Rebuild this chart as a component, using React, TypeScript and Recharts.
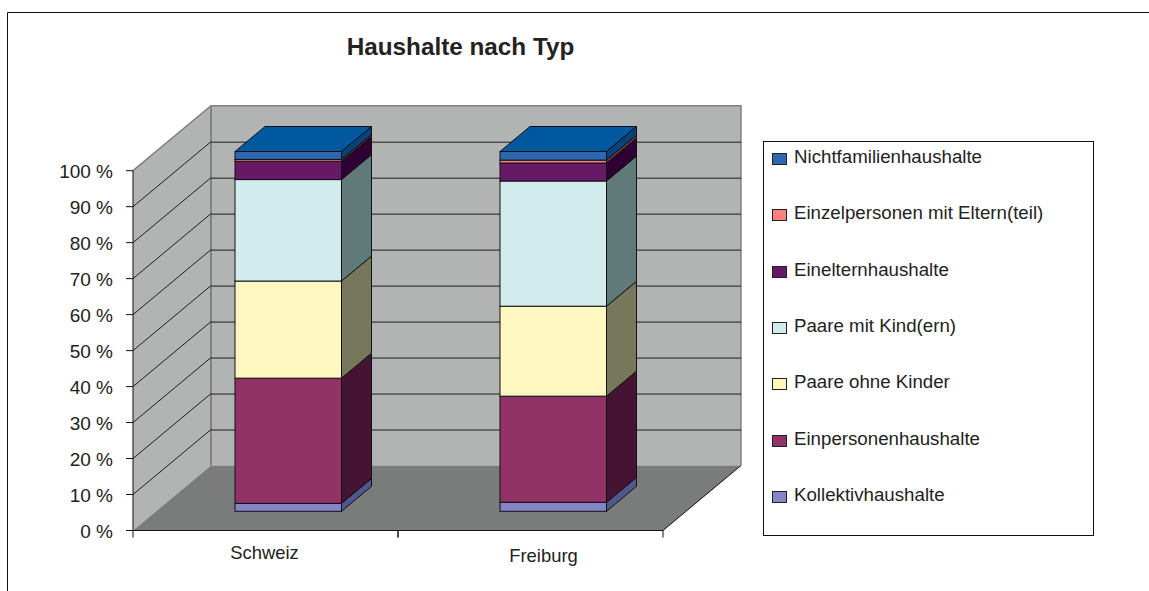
import { Bar, BarChart, CartesianGrid, Legend, XAxis, YAxis } from "recharts";

const categories = ["Schweiz", "Freiburg"];
const seriesNames = [
  "Kollektivhaushalte",
  "Einpersonenhaushalte",
  "Paare ohne Kinder",
  "Paare mit Kind(ern)",
  "Einelternhaushalte",
  "Einzelpersonen mit Eltern(teil)",
  "Nichtfamilienhaushalte",
];
const schweizValues = [2.2, 34.8, 27.0, 28.2, 5.1, 0.5, 2.2];
const freiburgValues = [2.5, 29.5, 25.0, 34.8, 5.0, 0.8, 2.4];
const yTicks = [0, 10, 20, 30, 40, 50, 60, 70, 80, 90, 100];

const faceColors = ["#8585c6", "#913366", "#fff7c0", "#d2ebec", "#661a66", "#ff8080", "#2d67b0"];
const sideColors = ["#50578c", "#451432", "#77775c", "#5f7a78", "#2e0033", "#803c3c", "#03437a"];
const topColor = "#00599f";

const tableData = categories.map((name, i) => {
  const row: Record<string, string | number> = { name };
  seriesNames.forEach((s, k) => {
    row[s] = (i === 0 ? schweizValues : freiburgValues)[k];
  });
  return row;
});

// plot area = the plane the bars stand on; axes sit in front of it, walls behind it
const WIDTH = 1149;
const HEIGHT = 591;
const PLOT = { left: 156, right: 686, top: 151.5, bottom: 511.3 };
const FRONT_DX = 23;
const FRONT_DY = 19.2;
const WALL_DX = 78;
const WALL_DY = 65;
const BAR_DX = 30;
const BAR_DY = 25;
const FONT = "'Liberation Sans', Arial, sans-serif";

const frontLeft = PLOT.left - FRONT_DX;
const frontRight = PLOT.right - FRONT_DX;
const frontTop = PLOT.top + FRONT_DY;
const frontBottom = PLOT.bottom + FRONT_DY;
const bandWidth = (PLOT.right - PLOT.left) / categories.length;
const pts = (...p: number[][]) => p.map((q) => q.join(",")).join(" ");

function Walls() {
  const bx = frontLeft + WALL_DX;
  const rx = frontRight + WALL_DX;
  const by = frontBottom - WALL_DY;
  const ty = frontTop - WALL_DY;
  return (
    <g>
      <line x1={7.5} y1={12.5} x2={WIDTH} y2={12.5} stroke="#111" strokeWidth={1} />
      <line x1={7.5} y1={12.5} x2={7.5} y2={HEIGHT} stroke="#111" strokeWidth={1} />
      <rect x={bx} y={ty} width={rx - bx} height={by - ty} fill="#b2b4b4" />
      <polygon points={pts([frontLeft, frontTop], [bx, ty], [bx, by], [frontLeft, frontBottom])} fill="#b2b4b4" />
      <polygon points={pts([frontLeft, frontBottom], [bx, by], [rx, by], [frontRight, frontBottom])} fill="#7a7b7b" />
      <polyline points={pts([frontLeft, frontTop], [bx, ty], [rx, ty], [rx, by])} fill="none" stroke="#808282" strokeWidth={1.5} />
      <line x1={bx} y1={ty} x2={bx} y2={by} stroke="#808282" strokeWidth={2} />
      <line x1={frontRight} y1={frontBottom} x2={rx} y2={by} stroke="#111" />
      <line x1={frontLeft} y1={frontTop} x2={frontLeft} y2={frontBottom} stroke="#111" />
      <line x1={frontLeft} y1={frontBottom} x2={frontRight} y2={frontBottom} stroke="#111" />
    </g>
  );
}

// gridline runs along the side wall then across the back wall
function GridLine(props: any) {
  const y = props.y1 as number;
  const fy = y + FRONT_DY;
  const wy = fy - WALL_DY;
  if (Math.abs(y - PLOT.bottom) < 1 || Math.abs(y - PLOT.top) < 1) return <g key={props.key} />;
  return (
    <g key={props.key}>
      <line x1={frontLeft} y1={fy} x2={frontLeft + WALL_DX} y2={wy} stroke="#1c1c1c" />
      <line x1={frontLeft + WALL_DX} y1={wy + 0.5} x2={frontRight + WALL_DX} y2={wy + 0.5} stroke="#1c1c1c" />
    </g>
  );
}

function YTick({ y, payload }: any) {
  const fy = y + FRONT_DY;
  return (
    <g>
      <line x1={frontLeft - 7} y1={fy} x2={frontLeft} y2={fy} stroke="#111" />
      <text x={frontLeft - 20} y={fy + 7} textAnchor="end" fontSize={19} fontFamily={FONT} fill="#222">
        {`${payload.value} %`}
      </text>
    </g>
  );
}

const xLabelNudge = [-1, 13];
const xLabelBaseline = [559, 561.5];

function XTick({ x, payload, index }: any) {
  const fx = x - FRONT_DX;
  return (
    <g>
      <line x1={fx - bandWidth / 2} y1={frontBottom} x2={fx - bandWidth / 2} y2={frontBottom + 7} stroke="#111" />
      <line x1={fx + bandWidth / 2} y1={frontBottom} x2={fx + bandWidth / 2} y2={frontBottom + 7} stroke="#111" />
      <text x={fx + xLabelNudge[index]} y={xLabelBaseline[index]} textAnchor="middle" fontSize={18.4} fontFamily={FONT} fill="#222">
        {payload.value}
      </text>
    </g>
  );
}

function Block3D({ x, y, width, height, seriesIndex }: any) {
  const edge = "#111";
  const r = x + width;
  const b = y + height;
  return (
    <g>
      {seriesIndex === seriesNames.length - 1 && (
        <polygon
          points={pts([x, y], [x + BAR_DX, y - BAR_DY], [r + BAR_DX, y - BAR_DY], [r, y])}
          fill={topColor}
          stroke={edge}
        />
      )}
      <polygon
        points={pts([r, y], [r + BAR_DX, y - BAR_DY], [r + BAR_DX, b - BAR_DY], [r, b])}
        fill={sideColors[seriesIndex]}
        stroke={edge}
      />
      <rect x={x} y={y} width={width} height={height} fill={faceColors[seriesIndex]} stroke={edge} />
    </g>
  );
}

function LegendBox({ payload }: any) {
  const rows = [...(payload ?? [])].reverse();
  return (
    <div style={{ position: "relative", width: 329, height: 393, border: "1px solid #111", background: "#fff", fontFamily: FONT }}>
      {rows.map((entry: any, i: number) => (
        <div
          key={entry.value}
          style={{ position: "absolute", left: 8, top: 3 + i * 56.3, height: 24, display: "flex", alignItems: "center", whiteSpace: "nowrap" }}
        >
          <span
            style={{ width: 13, height: 10, border: "1px solid #222", background: entry.color, marginRight: 7, marginTop: 4, flex: "none" }}
          />
          <span style={{ fontSize: 18.7, color: "#222" }}>{entry.value}</span>
        </div>
      ))}
    </div>
  );
}

export default function App() {
  return (
    <div style={{ position: "absolute", left: 0, top: 0, width: WIDTH, height: HEIGHT, background: "#fff", overflow: "hidden" }}>
      <BarChart
        width={WIDTH}
        height={HEIGHT}
        data={tableData}
        barSize={106.5}
        margin={{ left: PLOT.left - 1, right: WIDTH - PLOT.right, top: PLOT.top, bottom: HEIGHT - PLOT.bottom - 1 }}
      >
        <Walls />
        <CartesianGrid vertical={false} horizontal={(p: any) => <GridLine {...p} />} zIndex={50} />
        <text x={460.5} y={55} textAnchor="middle" fontSize={24.3} fontWeight="bold" fontFamily={FONT} fill="#222">
          Haushalte nach Typ
        </text>
        <XAxis dataKey="name" height={1} axisLine={false} tickLine={false} tickSize={0} tickMargin={0} interval={0} tick={<XTick />} zIndex={60} />
        <YAxis
          width={1}
          domain={[0, 100]}
          ticks={yTicks}
          interval={0}
          axisLine={false}
          tickLine={false}
          tickSize={0}
          tickMargin={0}
          tick={<YTick />}
          zIndex={60}
        />
        <Legend
          layout="vertical"
          align="center"
          verticalAlign="middle"
          itemSorter={null}
          content={<LegendBox />}
          wrapperStyle={{ position: "absolute", left: 763, top: 141, width: 331, height: 395, margin: 0 }}
        />
        {seriesNames.map((s, k) => (
          <Bar
            key={s}
            dataKey={s}
            name={s}
            stackId="a"
            fill={faceColors[k]}
            isAnimationActive={false}
            shape={(p: any) => <Block3D {...p} seriesIndex={k} />}
          />
        ))}
      </BarChart>
    </div>
  );
}
